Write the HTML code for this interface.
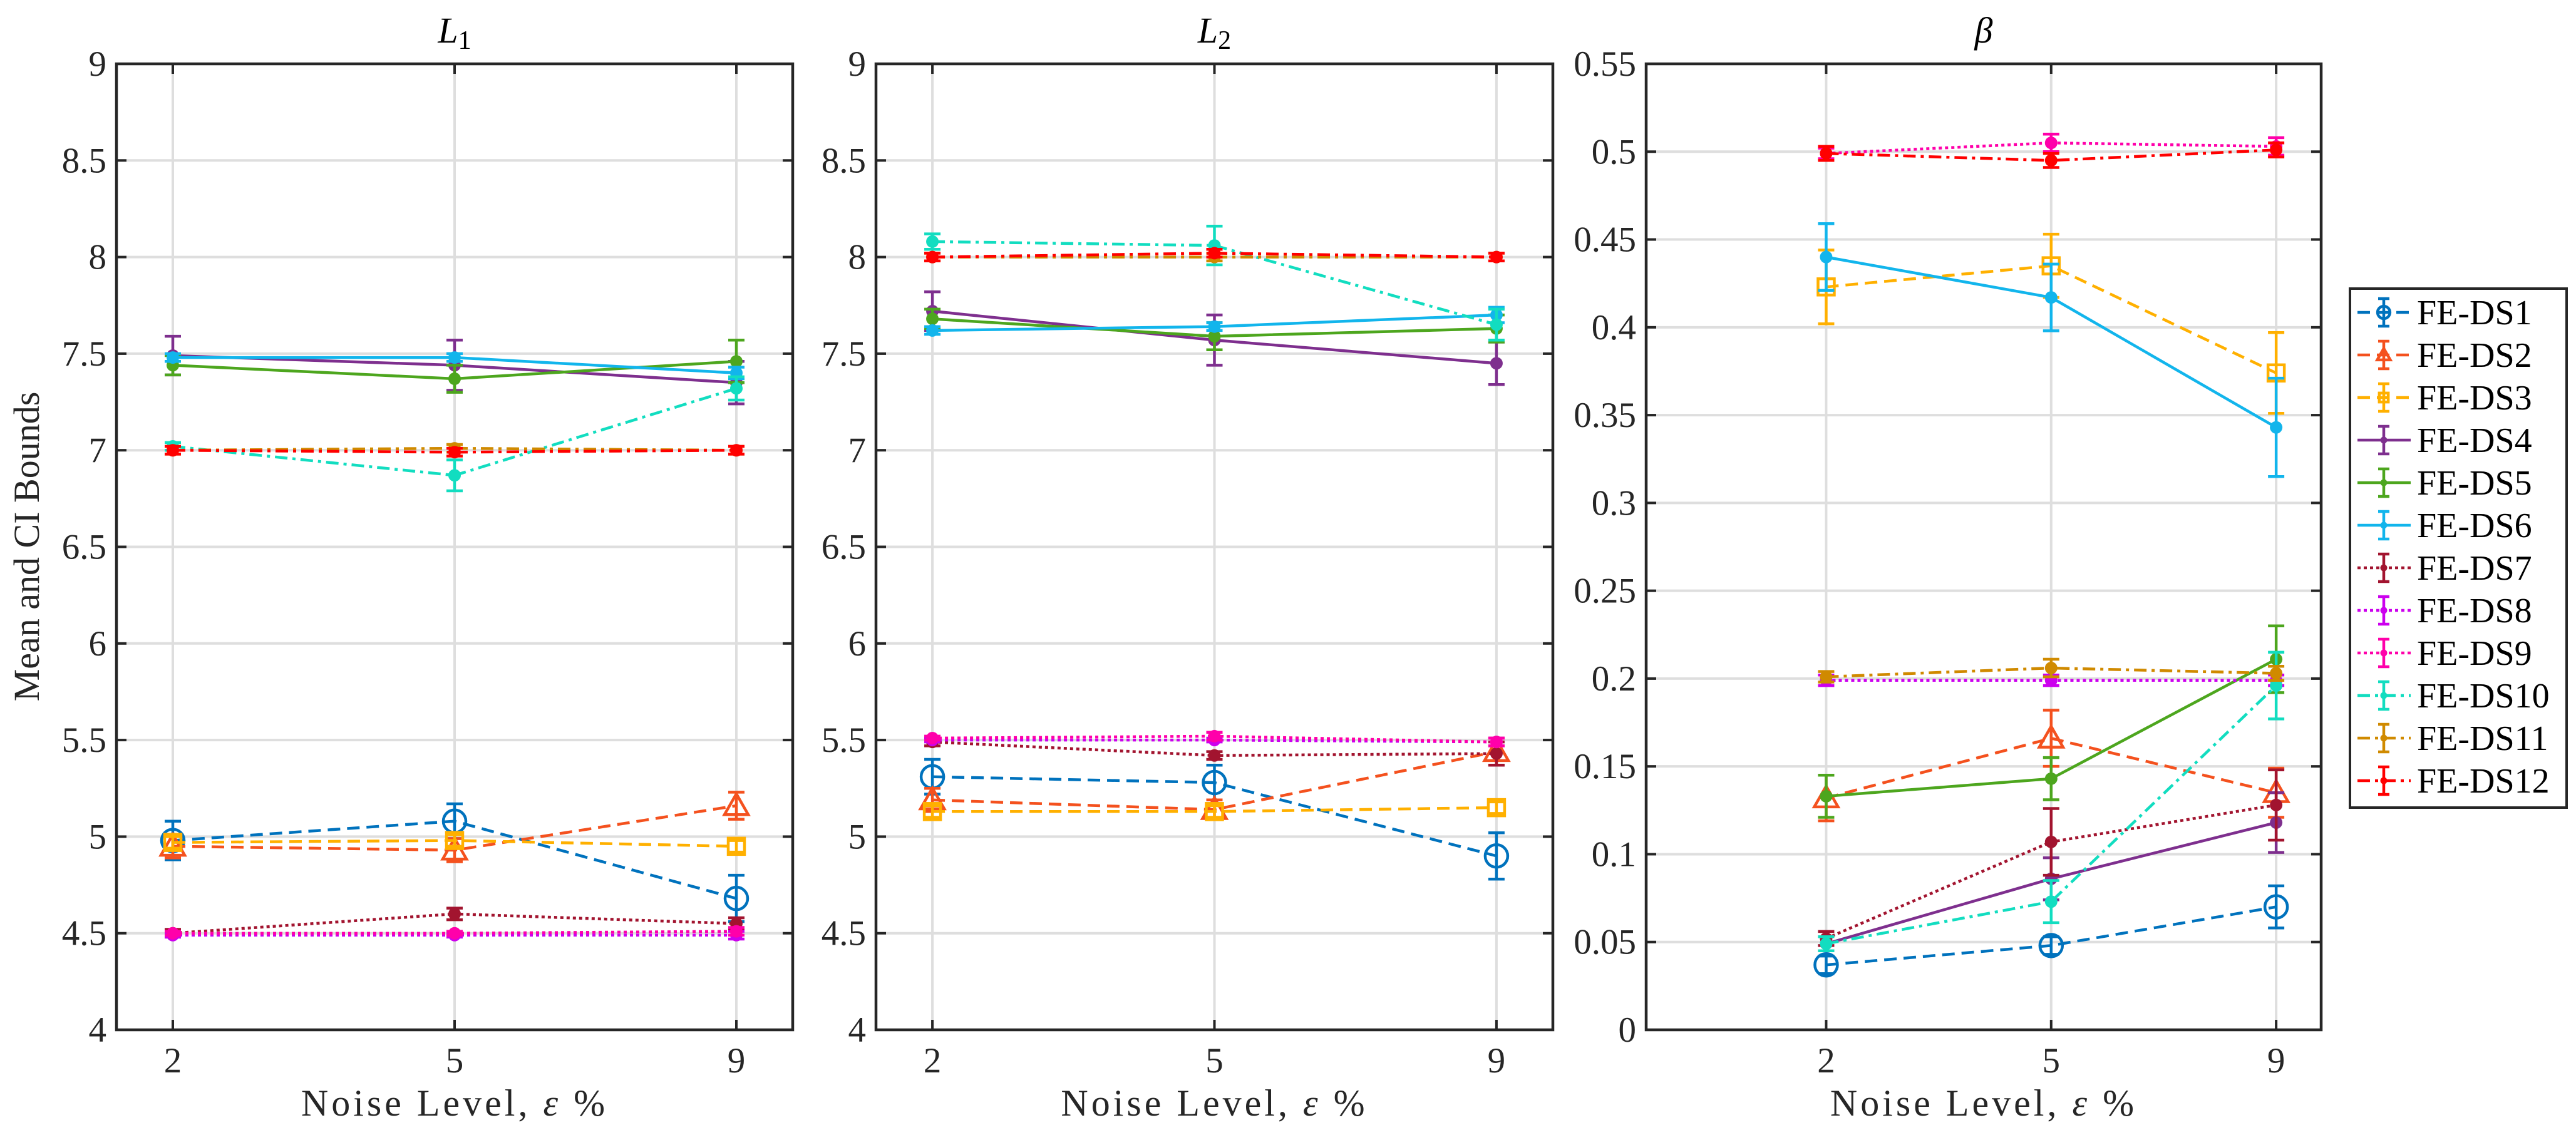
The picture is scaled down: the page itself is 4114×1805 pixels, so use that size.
<!DOCTYPE html>
<html><head><meta charset="utf-8">
<style>
body{margin:0;background:#fff;}
svg{display:block;font-family:"Liberation Serif",serif;}
</style></head>
<body>
<svg id="chart" width="4114" height="1805" viewBox="0 0 4114 1805" xmlns="http://www.w3.org/2000/svg"></svg>
<script>
const categories = ["2","5","9"];
const seriesNames = ["FE-DS1","FE-DS2","FE-DS3","FE-DS4","FE-DS5","FE-DS6","FE-DS7","FE-DS8","FE-DS9","FE-DS10","FE-DS11","FE-DS12"];
const l1Values = [[4.98,5.08,4.68],[4.95,4.93,5.16],[4.97,4.98,4.95],[7.49,7.44,7.35],[7.44,7.37,7.46],[7.48,7.48,7.40],[4.50,4.60,4.55],[4.49,4.49,4.49],[4.50,4.50,4.51],[7.02,6.87,7.32],[7.00,7.01,7.00],[7.00,6.99,7.00]];
const l1Errors = [[0.10,0.09,0.12],[0.06,0.06,0.07],[0.03,0.03,0.03],[0.10,0.13,0.11],[0.05,0.07,0.11],[0.02,0.02,0.03],[0.02,0.03,0.03],[0.01,0.01,0.02],[0.01,0.01,0.02],[0.02,0.08,0.06],[0.02,0.02,0.02],[0.02,0.02,0.02]];
const l2Values = [[5.31,5.28,4.90],[5.19,5.14,5.44],[5.13,5.13,5.15],[7.72,7.57,7.45],[7.68,7.59,7.63],[7.62,7.64,7.70],[5.49,5.42,5.43],[5.50,5.50,5.49],[5.51,5.52,5.49],[8.08,8.06,7.65],[8.00,8.00,8.00],[8.00,8.02,8.00]];
const l2Errors = [[0.09,0.09,0.12],[0.06,0.05,0.07],[0.03,0.03,0.03],[0.10,0.13,0.11],[0.05,0.07,0.07],[0.02,0.02,0.04],[0.02,0.02,0.06],[0.01,0.01,0.02],[0.01,0.02,0.02],[0.04,0.10,0.08],[0.02,0.02,0.02],[0.02,0.02,0.02]];
const betaValues = [[0.037,0.048,0.070],[0.132,0.166,0.135],[0.423,0.435,0.374],[0.049,0.086,0.118],[0.133,0.143,0.211],[0.440,0.417,0.343],[0.052,0.107,0.128],[0.199,0.199,0.199],[0.499,0.505,0.503],[0.049,0.073,0.196],[0.201,0.206,0.203],[0.499,0.495,0.501]];
const betaErrors = [[0.005,0.005,0.012],[0.013,0.016,0.014],[0.021,0.018,0.023],[0.004,0.012,0.017],[0.012,0.012,0.019],[0.019,0.019,0.028],[0.004,0.019,0.020],[0.003,0.003,0.003],[0.003,0.005,0.005],[0.004,0.012,0.019],[0.003,0.005,0.004],[0.004,0.004,0.004]];
const l14Ticks = ["4","4.5","5","5.5","6","6.5","7","7.5","8","8.5","9"];
const betaTicks = ["0","0.05","0.1","0.15","0.2","0.25","0.3","0.35","0.4","0.45","0.5","0.55"];

const colors = ["#0072BD","#F4511E","#FFB000","#7E2F8E","#4DA61E","#12B5EC","#A2142F","#CC00EE","#FF00AA","#12DDC0","#D08A00","#FF0000"];
const dashes = ["20 11","20 11","20 11","","","","5 5","5 5","5 5","20 8 5 8","20 8 5 8","20 8 5 8"];
const markers = ["circle","tri","square","dot","dot","dot","dot","dot","dot","dot","dot","dot"];

const svg = document.getElementById('chart');
const NS = "http://www.w3.org/2000/svg";
function mk(tag, attrs, parent){const e=document.createElementNS(NS,tag);for(const k in attrs)e.setAttribute(k,attrs[k]);(parent||svg).appendChild(e);return e;}

const panels = [
 {name:"l1",title:"L",sub:"1",left:186,right:1266,xmin:0.8,xmax:3.2,ymin:4,ymax:9,ticks:l14Ticks,vals:l1Values,errs:l1Errors},
 {name:"l2",title:"L",sub:"2",left:1399,right:2480,xmin:0.8,xmax:3.2,ymin:4,ymax:9,ticks:l14Ticks,vals:l2Values,errs:l2Errors},
 {name:"beta",title:"β",sub:"",left:2629,right:3707,xmin:0.2,xmax:3.2,ymin:0,ymax:0.55,ticks:betaTicks,vals:betaValues,errs:betaErrors}
];
const TOP=102, BOT=1645, SW=4.5;

function drawMarker(parent,m,x,y,col,scale){
  let el;
  if(m==="circle") el=mk('circle',{cx:x,cy:y,r:18*scale,fill:"none",stroke:col,"stroke-width":SW},parent);
  else if(m==="tri"){const r=19*scale;el=mk('polygon',{points:`${x},${y-r} ${x-r},${y+r*0.75} ${x+r},${y+r*0.75}`,fill:"none",stroke:col,"stroke-width":SW},parent);}
  else if(m==="square"){const r=13*scale;el=mk('rect',{x:x-r,y:y-r,width:2*r,height:2*r,fill:"none",stroke:col,"stroke-width":SW},parent);}
  else el=mk('circle',{cx:x,cy:y,r:10*scale,fill:col},parent);
  
  
}

panels.forEach(p=>{
  const g = mk('g',{});
  
  
  const xs = i => p.left + (i+1-p.xmin)/(p.xmax-p.xmin)*(p.right-p.left);
  const ys = v => BOT - (v-p.ymin)/(p.ymax-p.ymin)*(BOT-TOP);
  p.ticks.forEach(t=>{
    const y=ys(parseFloat(t));
    const gl=mk('line',{x1:p.left,x2:p.right,y1:y,y2:y,stroke:"#dedede","stroke-width":4},g);
    
    
    mk('line',{x1:p.left,x2:p.left+16,y1:y,y2:y,stroke:"#262626","stroke-width":4},g);
    mk('line',{x1:p.right,x2:p.right-16,y1:y,y2:y,stroke:"#262626","stroke-width":4},g);
    const tl=mk('text',{x:p.left-16,y:y+19,"text-anchor":"end","font-size":57,fill:"#262626"},g);
    tl.textContent=t;
    
    
  });
  categories.forEach((c,i)=>{
    const x=xs(i);
    const gl=mk('line',{x1:x,x2:x,y1:TOP,y2:BOT,stroke:"#dedede","stroke-width":4},g);
    
    
    mk('line',{x1:x,x2:x,y1:BOT,y2:BOT-16,stroke:"#262626","stroke-width":4},g);
    mk('line',{x1:x,x2:x,y1:TOP,y2:TOP+16,stroke:"#262626","stroke-width":4},g);
    const tl=mk('text',{x:x,y:BOT+68,"text-anchor":"middle","font-size":57,fill:"#262626"},g);
    tl.textContent=c;
    
    
  });
  const box=mk('rect',{x:p.left,y:TOP,width:p.right-p.left,height:BOT-TOP,fill:"none",stroke:"#262626","stroke-width":4.5},g);
  
  
  const tt=mk('text',{x:(p.left+p.right)/2,y:68,"text-anchor":"middle","font-size":58,"font-style":"italic",fill:"#000"},g);
  tt.textContent=p.title;
  if(p.sub){const ts=mk('tspan',{"font-size":42,"font-style":"normal",dy:10},tt);ts.textContent=p.sub;}
  
  
  const xl=mk('text',{x:(p.left+p.right)/2,y:1782,"text-anchor":"middle","font-size":60,"letter-spacing":5,fill:"#262626"},g);
  xl.innerHTML='Noise Level, <tspan font-style="italic">ε</tspan> %';
  
  
  p.vals.forEach((vals,s)=>{
    const sg=mk('g',{},g);
    
    
    const col=colors[s];
    const pts=vals.map((v,i)=>xs(i)+','+ys(v)).join(' ');
    const pl=mk('polyline',{points:pts,fill:"none",stroke:col,"stroke-width":SW,"stroke-dasharray":dashes[s]},sg);
    
    
    vals.forEach((v,i)=>{
      const x=xs(i),e=p.errs[s][i];
      const y1=ys(v-e),y2=ys(v+e);
      mk('line',{x1:x,x2:x,y1:y1,y2:y2,stroke:col,"stroke-width":SW},sg);
      mk('line',{x1:x-13,x2:x+13,y1:y1,y2:y1,stroke:col,"stroke-width":SW},sg);
      mk('line',{x1:x-13,x2:x+13,y1:y2,y2:y2,stroke:col,"stroke-width":SW},sg);
      drawMarker(sg,markers[s],x,ys(v),col,1);
    });
  });
});

const yt=mk('text',{x:0,y:0,"text-anchor":"middle","font-size":58,fill:"#262626",transform:"translate(62,873) rotate(-90)"});
yt.textContent="Mean and CI Bounds";



const lg=mk('g',{});


const lb=mk('rect',{x:3753,y:461,width:346,height:829,fill:"#fff",stroke:"#262626","stroke-width":4},lg);


seriesNames.forEach((n,s)=>{
  const y=499+s*68;
  const eg=mk('g',{},lg);
  
  
  const col=colors[s];
  mk('line',{x1:3765,x2:3850,y1:y,y2:y,stroke:col,"stroke-width":SW,"stroke-dasharray":dashes[s]},eg);
  mk('line',{x1:3807,x2:3807,y1:y-22,y2:y+22,stroke:col,"stroke-width":SW},eg);
  mk('line',{x1:3798,x2:3816,y1:y-22,y2:y-22,stroke:col,"stroke-width":SW},eg);
  mk('line',{x1:3798,x2:3816,y1:y+22,y2:y+22,stroke:col,"stroke-width":SW},eg);
  drawMarker(eg,markers[s],3807,y,col,0.55);
  const t=mk('text',{x:3860,y:y+19,"font-size":56,fill:"#000"},eg);
  t.textContent=n;
});
</script>
</body></html>
